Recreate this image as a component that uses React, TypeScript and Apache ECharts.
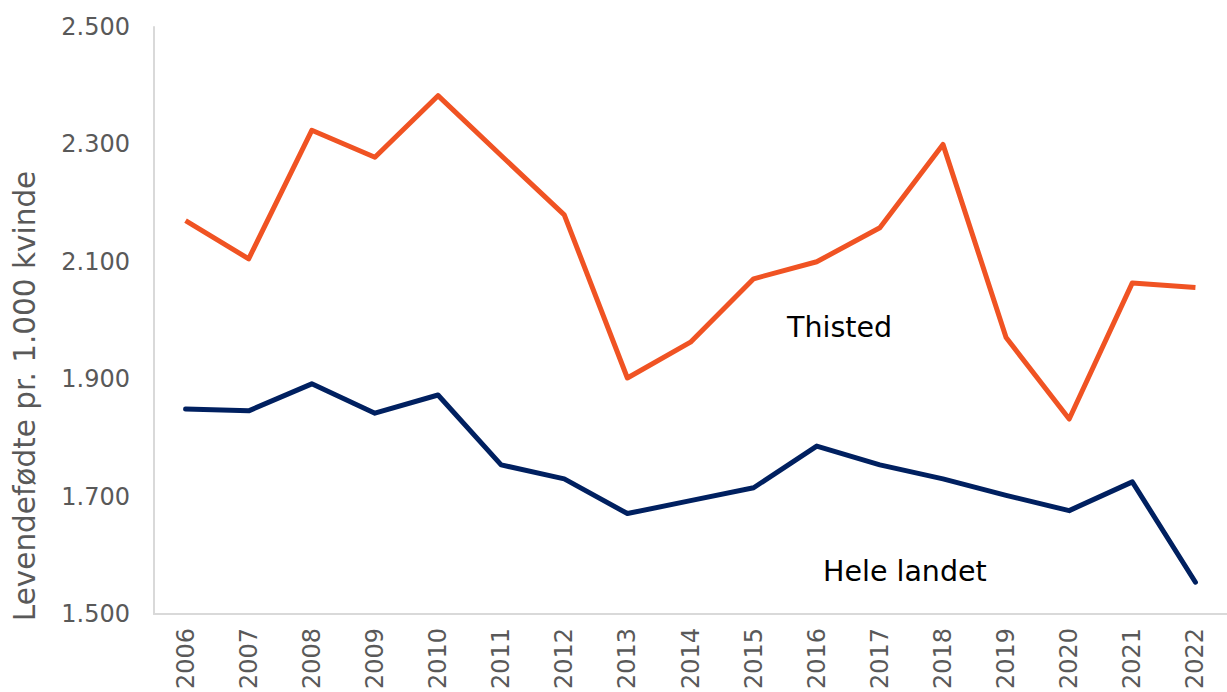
import React, { useEffect, useRef } from "react";
import * as echarts from "echarts";

const years = ["2006","2007","2008","2009","2010","2011","2012","2013","2014","2015","2016","2017","2018","2019","2020","2021","2022"];
const thisted = [2170, 2105, 2324, 2278, 2383, 2281, 2180, 1902, 1963, 2071, 2100, 2158, 2300, 1971, 1832, 2064, 2056];
const heleLandet = [1849, 1846, 1892, 1842, 1873, 1754, 1730, 1671, 1693, 1715, 1786, 1754, 1730, 1702, 1676, 1725, 1554];

const fmt = (v: number) => {
  const s = String(Math.round(v));
  return s.replace(/\B(?=(\d{3})+(?!\d))/g, ".");
};

export default function App() {
  const ref = useRef<HTMLDivElement>(null);
  useEffect(() => {
    if (!ref.current) return;
    const chart = echarts.init(ref.current, null, { renderer: "svg" });
    const font = "DejaVu Sans";
    chart.setOption({
      animation: false,
      backgroundColor: "#ffffff",
      textStyle: { fontFamily: font },
      grid: { left: 154, top: 27, width: 1085, height: 590 },
      xAxis: {
        type: "category",
        data: years,
        boundaryGap: true,
        axisLine: { show: true, lineStyle: { color: "#d9d9d9", width: 2 } },
        axisTick: { show: false },
        axisLabel: { rotate: 90, fontSize: 24, color: "#595959", margin: 14, fontFamily: font },
        splitLine: { show: false },
      },
      yAxis: {
        type: "value",
        min: 1500,
        max: 2500,
        interval: 200,
        axisLine: { show: true, lineStyle: { color: "#d9d9d9", width: 2 } },
        axisTick: { show: false },
        splitLine: { show: false },
        axisLabel: { fontSize: 24, color: "#595959", margin: 24, fontFamily: font, formatter: (v: number) => fmt(v) },
      },
      series: [
        {
          name: "Thisted",
          type: "line",
          data: thisted,
          symbol: "none",
          lineStyle: { color: "#F05323", width: 5, join: "round" },
          itemStyle: { color: "#F05323" },
        },
        {
          name: "Hele landet",
          type: "line",
          data: heleLandet,
          symbol: "none",
          lineStyle: { color: "#002060", width: 5, join: "round", cap: "round" },
          itemStyle: { color: "#002060" },
        },
      ],
      graphic: [
        {
          type: "text",
          x: 25,
          y: 396,
          rotation: Math.PI / 2,
          style: {
            text: "Levendefødte pr. 1.000 kvinde",
            fontSize: 29.5,
            fill: "#595959",
            fontFamily: font,
            align: "center",
            verticalAlign: "middle",
          },
        },
        {
          type: "text",
          x: 787,
          y: 327,
          style: { text: "Thisted", fontSize: 28.5, fill: "#000000", fontFamily: font, verticalAlign: "middle" },
        },
        {
          type: "text",
          x: 823,
          y: 571,
          style: { text: "Hele landet", fontSize: 28.5, fill: "#000000", fontFamily: font, verticalAlign: "middle" },
        },
      ],
    });
    return () => chart.dispose();
  }, []);
  return <div ref={ref} style={{ position: "fixed", left: 0, top: 0, width: 1227, height: 692 }} />;
}
